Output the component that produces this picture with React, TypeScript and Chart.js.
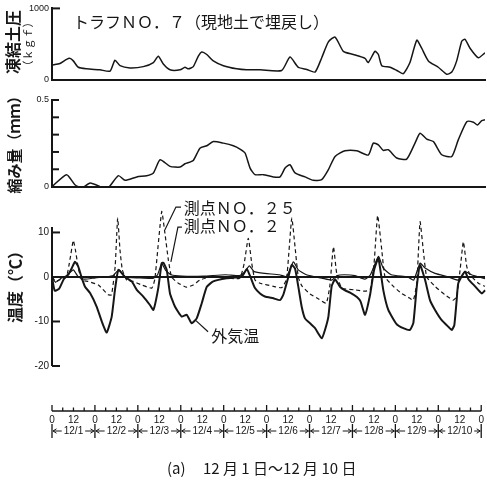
import React, { useEffect, useRef } from "react";
import { Chart, registerables } from "chart.js";

Chart.register(...registerables);

const INK = "#161616";
const JP = '"Noto Sans CJK JP", "Noto Sans", sans-serif';
const NUM = '"Liberation Sans", Arial, sans-serif';

const HOUR_MIN = 0;
const HOUR_MAX = 240;

// 凍結土圧 (kgf)
const pressureHours = [0, 4.4, 8.1, 10, 11.8, 14.6, 19.2, 26.6, 32.2, 34.9, 37.7, 43.2, 50.6, 56.2, 58.9, 61.7, 65.4, 71, 73.7, 75.6, 78.3, 81.1, 83, 85.8, 89.4, 95, 102.4, 107.9, 115.3, 127.3, 131.9, 136.5, 141.2, 145.8, 149.5, 153.2, 156.9, 161.5, 167, 173.5, 175.3, 179, 180.9, 182.8, 187.4, 191.1, 194.7, 198.4, 202.2, 204.9, 208.6, 214.1, 218.8, 221.6, 224.3, 227.1, 228.9, 231.7, 236.3, 240];
const pressureKgf = [210, 231, 289, 302, 267, 178, 156, 142, 124, 276, 200, 169, 187, 244, 333, 222, 142, 142, 178, 156, 187, 333, 391, 356, 267, 200, 156, 142, 142, 133, 320, 178, 147, 111, 311, 533, 600, 400, 356, 302, 244, 400, 356, 200, 178, 133, 89, 244, 556, 444, 267, 178, 80, 111, 267, 542, 569, 444, 311, 380];

// 縮み量 (mm)
const shrinkHours = [0, 8.1, 12.7, 16.5, 21.1, 26.6, 30.3, 36.8, 40.5, 47, 52.5, 56.2, 59.9, 65.4, 71, 73.7, 78.3, 82, 85.8, 89.4, 95, 100.5, 104.2, 107, 109.8, 112.5, 117.1, 122.7, 126.4, 129.2, 131.9, 134.7, 140.2, 144.8, 149.5, 153.2, 156.9, 162.4, 168.9, 175.3, 178.1, 180.9, 183.6, 186.4, 191.1, 196.6, 201.2, 204, 207.7, 211.4, 216, 221.6, 225.2, 229.9, 233.6, 235.8, 238.2, 240];
const shrinkMm = [0, 0.069, 0.011, -0.008, 0.021, 0, -0.017, 0.063, 0.036, 0.056, 0.063, 0.079, 0.155, 0.117, 0.113, 0.132, 0.151, 0.222, 0.236, 0.26, 0.251, 0.236, 0.217, 0.194, 0.107, 0.069, 0.069, 0.056, 0.056, 0.107, 0.126, 0.079, 0.056, 0.036, 0.04, 0.098, 0.174, 0.207, 0.207, 0.182, 0.251, 0.241, 0.209, 0.213, 0.165, 0.159, 0.251, 0.308, 0.274, 0.26, 0.184, 0.174, 0.27, 0.375, 0.372, 0.356, 0.381, 0.386];

// 外気温 (°C)
const airHours = [0, 1.5, 4, 6.5, 9, 11, 12.7, 14.5, 16.5, 18.3, 21.1, 24.8, 27.6, 30.3, 33.1, 34.9, 36.8, 40.5, 44.2, 47, 50.6, 54.3, 56.2, 58.9, 60.8, 61.7, 63.6, 65.4, 68.2, 71.9, 74.7, 77.4, 80.2, 83, 85.8, 89.4, 96.8, 104.2, 106, 108, 110, 112.5, 115.3, 118, 122.7, 126.4, 128.2, 131, 132.9, 134.7, 136.5, 138.4, 140.2, 143, 145.8, 147.6, 149.5, 151.3, 153.2, 155, 156.9, 159.6, 162.4, 165.2, 169, 171, 173.5, 176.3, 178.5, 180.9, 183.6, 186.4, 191, 194.7, 198.4, 200.3, 202.2, 204, 206.8, 209.5, 212.3, 216, 219.7, 221.6, 223, 224.3, 225.2, 228.9, 230.8, 234.5, 238.2, 240];
const airTemp = [0, -3.1, -2.6, -0.5, 0.5, 2, 3.4, 2.4, -0.2, -2.2, -3.6, -6.7, -10, -12.5, -8.9, -2.9, 1.6, 0, -1, -2.9, -4.4, -6.3, -7.4, -2.5, 3.1, 3.2, 1.6, -3.7, -6.7, -8.9, -8.5, -10.4, -9.3, -5.9, -2.2, -1, -0.3, 0, 0.5, 1.8, 0, -2.5, -3.7, -4.4, -4.8, -5.2, -4, 0, 2.7, 1.9, -2.1, -6.7, -9.3, -10.4, -11.5, -12.7, -13.8, -11.9, -8.9, -2.1, -0.5, -2.2, -3, -3.5, -4.5, -5.5, -8.5, -4, 1.5, 4.2, -2.9, -7.4, -10.6, -11.5, -11.9, -10.3, -2.1, 2.7, -0.7, -5.2, -7.4, -9.7, -11.2, -11.9, -10.8, -5.2, -1.4, 1.2, -0.5, -2.1, -3.7, -3];

// 測点NO.25 (°C)
const no25Hours = [0, 2, 5, 8, 10, 11.8, 13, 14.6, 16.5, 20, 25.7, 31.2, 33, 35, 36.4, 37.7, 39, 41.4, 45, 49.7, 55.3, 57, 60.8, 62.6, 64.5, 66.3, 70, 74.7, 78.3, 82, 87.6, 96, 104, 106.5, 108.8, 110.7, 112.5, 115.3, 122.7, 127.3, 130, 132.9, 134.7, 136.5, 138.5, 143, 148, 152, 154, 156, 157.8, 160.6, 168, 173.5, 176.3, 178.5, 180.5, 182.8, 184.6, 189.2, 193.8, 198.4, 200.3, 202.2, 204, 205.8, 207.7, 212.3, 217.8, 222.4, 224.3, 226.2, 228, 229.9, 231.7, 236.3, 240];
const no25Temp = [0, -1, -0.5, 0, 4, 8.2, 6, 2, -0.7, -1, -1.8, -4, -4, 2.3, 13.2, 6, 1.6, -0.7, -1, -1.8, -2.5, -0.5, 14.7, 9.8, 3.8, 0, -1.4, -2.3, -1.8, -0.7, 0, -0.2, -0.3, 3, 8.7, 3.1, -0.7, -1.4, -2.1, -2.4, -0.5, 13.2, 6.8, 0, -2, -3.8, -5, -5.9, -2, 6.8, 0.8, -2.5, -2.9, -3.2, -2.9, 3, 13.8, 6, 0, -2.1, -3.7, -4.8, -5.2, -1.4, 12.4, 6, 0, -2.1, -4, -5.2, -4.4, 1.6, 7.9, 2.3, 0.5, -1.4, -2.1];

// 測点NO.2 (°C)
const no2Hours = [0, 2, 5, 8, 11.8, 14.6, 18, 24, 30, 34, 35.9, 37.5, 40.5, 48, 56, 58.5, 60.8, 63, 66, 72, 84, 96, 104, 106.5, 109.4, 112, 118, 126, 130, 133.8, 136.5, 141, 150, 155, 158, 162, 168, 173.5, 176.5, 180.9, 183.6, 188, 197, 200.5, 204, 206.8, 212.3, 219.7, 225.2, 228.9, 232.5, 240];
const no2Temp = [0, -1.2, -0.3, 0.3, 1.6, 0, -0.5, -0.2, 0, 0.3, 1.2, 1.5, 0, -0.2, -0.3, 0.5, 3, 1.5, 0.5, 0.2, 0.2, 0.5, 0.3, 1, 2.5, 1.2, 0.8, 0.5, 0.1, 3.4, 1.6, 0.5, -0.3, -0.7, 0.3, 0.5, 0.3, -0.5, 0.5, 4.6, 2, 0.5, 0, -0.7, 3.1, 2, 0.8, 0, -0.7, 1.2, 0.5, -0.4];

const dayLabels = ["12/1", "12/2", "12/3", "12/4", "12/5", "12/6", "12/7", "12/8", "12/9", "12/10"];
const hourLabels = ["0", "12"];
const pressureTicks = [0, 1000];
const shrinkLabelTicks = [0, 0.5];
const shrinkMarkTicks = [0.1, 0.2, 0.3, 0.4, 0.5];
const tempTicks = [-20, -10, 0, 10];
const tempMarkTicks = [-20, -10, 10];

const toPoints = (hs: number[], vs: number[]) => hs.map((h, i) => ({ x: h, y: vs[i] }));

function baseOptions(padding: any, scales: any) {
  return {
    responsive: false,
    maintainAspectRatio: false,
    animation: false,
    devicePixelRatio: 1,
    events: [],
    layout: { padding },
    plugins: { legend: { display: false }, tooltip: { enabled: false }, title: { display: false } },
    scales,
  };
}

function hourAxis(show: boolean) {
  return {
    type: "linear",
    min: HOUR_MIN,
    max: HOUR_MAX,
    display: show,
    afterFit: (s: any) => { s.height = 0; },
    ticks: { display: false },
    grid: { display: false, drawTicks: false },
    border: { display: true, color: INK, width: 2 },
  };
}

function leftAxis(min: number, max: number, labels: number[], fmt: (v: number) => string, size: number, extra: any = {}) {
  return {
    type: "linear",
    min,
    max,
    afterFit: (s: any) => { s.width = 52; },
    afterBuildTicks: (s: any) => { s.ticks = labels.map((v) => ({ value: v })); },
    ticks: { color: INK, font: { family: NUM, size }, padding: 3, autoSkip: false, callback: (v: any) => fmt(Number(v)) },
    grid: { display: false, drawTicks: false },
    border: { display: true, color: INK, width: 2 },
    ...extra,
  };
}

function innerTicks(ctx: any, chart: any, values: number[], len: number) {
  const y = chart.scales.y;
  const left = chart.chartArea.left;
  ctx.save();
  ctx.strokeStyle = INK;
  ctx.lineWidth = 2;
  values.forEach((v) => {
    const py = y.getPixelForValue(v);
    ctx.beginPath();
    ctx.moveTo(left, py);
    ctx.lineTo(left + len, py);
    ctx.stroke();
  });
  ctx.restore();
}

function vText(ctx: any, text: string, x: number, y: number, font: string) {
  ctx.save();
  ctx.translate(x, y);
  ctx.rotate(-Math.PI / 2);
  ctx.font = font;
  ctx.fillStyle = INK;
  ctx.textAlign = "center";
  ctx.textBaseline = "middle";
  ctx.fillText(text, 0, 0);
  ctx.restore();
}

function makePressure() {
  return {
    type: "line",
    data: {
      datasets: [{ data: toPoints(pressureHours, pressureKgf), borderColor: INK, borderWidth: 1.5, pointRadius: 0, tension: 0.2 }],
    },
    options: baseOptions({ top: 5, bottom: 12, left: 0, right: 2 }, {
      x: hourAxis(true),
      y: leftAxis(0, 1000, pressureTicks, (v) => String(v), 9),
    }),
    plugins: [{
      id: "pressureDeco",
      afterDraw(chart: any) {
        const ctx = chart.ctx;
        innerTicks(ctx, chart, [1000], 8);
        vText(ctx, "凍結土圧", 13, 42, `bold 16px ${JP}`);
        vText(ctx, "（ｋｇｆ）", 28, 44, `11px ${JP}`);
        ctx.save();
        ctx.font = `16px ${JP}`;
        ctx.fillStyle = INK;
        ctx.textAlign = "left";
        ctx.textBaseline = "middle";
        ctx.fillText("トラフＮＯ．７（現地土で埋戻し）", 73, 22);
        ctx.restore();
      },
    }],
  };
}

function makeShrink() {
  return {
    type: "line",
    data: {
      datasets: [{ data: toPoints(shrinkHours, shrinkMm), borderColor: INK, borderWidth: 1.5, pointRadius: 0, tension: 0.2 }],
    },
    options: baseOptions({ top: 15, bottom: 8, left: 0, right: 2 }, {
      x: hourAxis(true),
      y: leftAxis(0, 0.5, shrinkLabelTicks, (v) => (v === 0 ? "0" : "0.5"), 9),
    }),
    plugins: [{
      id: "shrinkDeco",
      afterDraw(chart: any) {
        const ctx = chart.ctx;
        innerTicks(ctx, chart, shrinkMarkTicks, 7);
        vText(ctx, "縮み量（ｍｍ）", 14, 56, `bold 15px ${JP}`);
      },
    }],
  };
}

function makeTemp() {
  return {
    type: "line",
    data: {
      datasets: [
        { data: toPoints(no25Hours, no25Temp), borderColor: INK, borderWidth: 1.2, borderDash: [4, 3], pointRadius: 0, tension: 0.15, clip: false },
        { data: toPoints(no2Hours, no2Temp), borderColor: INK, borderWidth: 1.2, pointRadius: 0, tension: 0.15, clip: false },
        { data: toPoints(airHours, airTemp), borderColor: INK, borderWidth: 2, pointRadius: 0, tension: 0.15, clip: false },
      ],
    },
    options: baseOptions({ top: 38, bottom: 7, left: 0, right: 2 }, {
      x: hourAxis(false),
      y: leftAxis(-20, 11, tempTicks, (v) => String(v), 10, {
        grid: {
          display: true,
          drawTicks: false,
          color: (c: any) => (c.tick && c.tick.value === 0 ? INK : "rgba(0,0,0,0)"),
          lineWidth: (c: any) => (c.tick && c.tick.value === 0 ? 2 : 0),
        },
      }),
    }),
    plugins: [{
      id: "tempDeco",
      afterDraw(chart: any) {
        const ctx = chart.ctx;
        const { x, y } = chart.scales;
        innerTicks(ctx, chart, tempMarkTicks, 8);
        vText(ctx, "温度（℃）", 15, 93, `bold 16px ${JP}`);
        ctx.save();
        ctx.fillStyle = INK;
        ctx.strokeStyle = INK;
        ctx.lineWidth = 1.2;
        ctx.font = `16px ${JP}`;
        ctx.textAlign = "left";
        ctx.textBaseline = "middle";
        ctx.fillText("測点ＮＯ．２５", x.getPixelForValue(73), y.getPixelForValue(15.4));
        ctx.fillText("測点ＮＯ．２", x.getPixelForValue(73), y.getPixelForValue(11.4));
        ctx.fillText("外気温", x.getPixelForValue(88.3), y.getPixelForValue(-13.2));
        const leader = (pts: number[][]) => {
          ctx.beginPath();
          pts.forEach((p, i) => {
            const px = x.getPixelForValue(p[0]);
            const py = y.getPixelForValue(p[1]);
            if (i === 0) ctx.moveTo(px, py); else ctx.lineTo(px, py);
          });
          ctx.stroke();
        };
        leader([[71.5, 15.7], [68.7, 15.7], [62.6, 10.6]]);
        leader([[72, 11.2], [69.8, 11.2], [65.9, 3.4]]);
        leader([[79.8, -9.8], [86.5, -12.3]]);
        ctx.restore();
      },
    }],
  };
}

function makeTime() {
  return {
    type: "line",
    data: { datasets: [] },
    options: baseOptions({ top: 0, bottom: 0, left: 52, right: 2 }, {
      x: {
        type: "linear",
        min: HOUR_MIN,
        max: HOUR_MAX,
        afterFit: (s: any) => { s.height = 76; },
        afterBuildTicks: (s: any) => {
          const t: any[] = [];
          for (let h = HOUR_MIN; h <= HOUR_MAX; h += 12) t.push({ value: h });
          s.ticks = t;
        },
        ticks: {
          autoSkip: false,
          maxRotation: 0,
          padding: 3,
          color: INK,
          font: { family: NUM, size: 10 },
          callback: (v: any) => hourLabels[(Number(v) % 24) / 12],
        },
        grid: { display: false, drawTicks: false },
        border: { display: false },
      },
      y: { display: false, min: 0, max: 1 },
    }),
    plugins: [{
      id: "timeDeco",
      afterDraw(chart: any) {
        const ctx = chart.ctx;
        const x = chart.scales.x;
        const base = chart.chartArea.bottom;
        ctx.save();
        ctx.strokeStyle = INK;
        ctx.fillStyle = INK;
        ctx.lineWidth = 1.6;
        ctx.beginPath();
        ctx.moveTo(x.getPixelForValue(HOUR_MIN), base);
        ctx.lineTo(x.getPixelForValue(HOUR_MAX), base);
        ctx.stroke();
        ctx.lineWidth = 1.3;
        for (let h = HOUR_MIN; h <= HOUR_MAX; h += 6) {
          const px = x.getPixelForValue(h);
          const len = h % 24 === 0 ? 6 : 3.5;
          ctx.beginPath();
          ctx.moveTo(px, base);
          ctx.lineTo(px, base - len);
          ctx.stroke();
        }
        const rowY = base + 20;
        ctx.font = `10px ${NUM}`;
        ctx.textAlign = "center";
        ctx.textBaseline = "middle";
        ctx.lineWidth = 1;
        dayLabels.forEach((lab, i) => {
          const xl = x.getPixelForValue(i * 24);
          const xr = x.getPixelForValue(i * 24 + 24);
          const xc = (xl + xr) / 2;
          const w = ctx.measureText(lab).width;
          ctx.fillText(lab, xc, rowY);
          ctx.beginPath();
          ctx.moveTo(xl + 1, rowY);
          ctx.lineTo(xc - w / 2 - 2, rowY);
          ctx.moveTo(xr - 1, rowY);
          ctx.lineTo(xc + w / 2 + 2, rowY);
          ctx.moveTo(xl + 4.5, rowY - 2.2);
          ctx.lineTo(xl + 1, rowY);
          ctx.lineTo(xl + 4.5, rowY + 2.2);
          ctx.moveTo(xr - 4.5, rowY - 2.2);
          ctx.lineTo(xr - 1, rowY);
          ctx.lineTo(xr - 4.5, rowY + 2.2);
          ctx.stroke();
        });
        ctx.lineWidth = 1.3;
        for (let d = 0; d <= dayLabels.length; d++) {
          const px = x.getPixelForValue(d * 24);
          ctx.beginPath();
          ctx.moveTo(px, rowY - 7);
          ctx.lineTo(px, rowY + 7);
          ctx.stroke();
        }
        ctx.font = `15px ${JP}`;
        ctx.textAlign = "left";
        ctx.fillText("(a)", 167, base + 57);
        ctx.fillText("12 月 1 日～12 月 10 日", 203, base + 57);
        ctx.restore();
      },
    }],
  };
}

function Panel({ top, height, make }: { top: number; height: number; make: () => any }) {
  const ref = useRef<HTMLCanvasElement | null>(null);
  useEffect(() => {
    const chart = new Chart(ref.current as HTMLCanvasElement, make());
    return () => chart.destroy();
  }, [make]);
  return (
    <canvas
      ref={ref}
      width={487}
      height={height}
      style={{ position: "absolute", left: 0, top, width: 487, height, display: "block" }}
    />
  );
}

export default function App() {
  return (
    <div style={{ position: "fixed", left: 0, top: 0, width: 487, height: 487, background: "#ffffff", overflow: "hidden" }}>
      <Panel top={0} height={92} make={makePressure} />
      <Panel top={85} height={110} make={makeShrink} />
      <Panel top={190} height={185} make={makeTemp} />
      <Panel top={375} height={112} make={makeTime} />
    </div>
  );
}
